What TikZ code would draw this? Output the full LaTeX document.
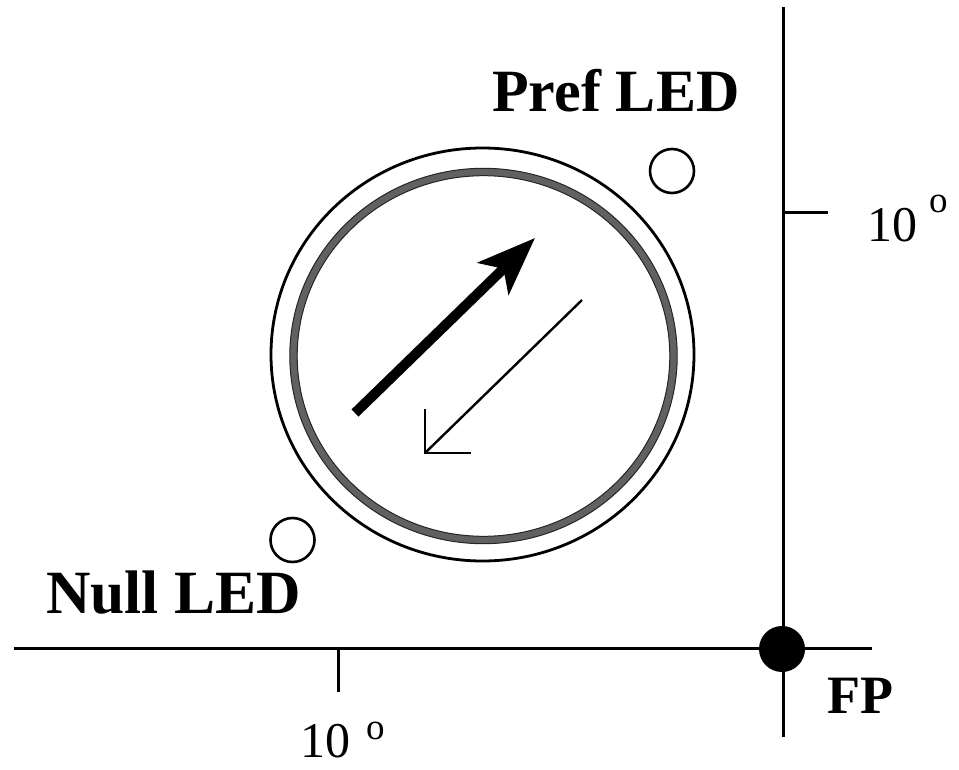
\documentclass[tikz,border=0pt]{standalone}
\usepackage{fontspec}
\setmainfont{Liberation Serif}
\usetikzlibrary{arrows.meta}
\begin{document}
\begin{tikzpicture}[x=1pt,y=-1pt,
  axis/.style={line width=3pt},
  led/.style={circle,draw,line width=2.6pt,minimum size=44pt,inner sep=0pt},
  lbl/.style={anchor=base west,inner sep=0pt,font=\fontsize{60}{61}\selectfont\bfseries},
  num/.style={anchor=base west,inner sep=0pt,text depth=0pt,font=\fontsize{50}{51}\selectfont},
  deg/.style={anchor=base west,inner sep=0pt,text depth=0pt,font=\fontsize{37}{38}\selectfont}]
\useasboundingbox (0,0) rectangle (959,770);
% axes
\coordinate (hx0) at (14,648.5);
\coordinate (hx1) at (872,648.5);
\coordinate (vy0) at (783.5,7);
\coordinate (vy1) at (783.5,737);
\draw[axis] (hx0) -- (hx1);
\draw[axis] (vy0) -- (vy1);
\coordinate (tb0) at (338,648.5);
\coordinate (tb1) at (338,692);
\coordinate (tr0) at (783.5,213);
\coordinate (tr1) at (828,213);
\draw[axis] (tb0) -- (tb1);
\draw[axis] (tr0) -- (tr1);
% fixation point
\node[circle,fill=black,minimum size=46pt,inner sep=0pt] (fp) at (782,649) {};
\node[lbl,font=\fontsize{54}{55}\selectfont\bfseries] (fpl) at (827,713) {FP};
% tick labels
\node[num] (n1) at (300,757) {10};
\node[deg] (d1) at (366,739) {o};
\node[num] (n2) at (867,242) {10};
\node[deg] (d2) at (929,213) {o};
% stimulus aperture
\draw[line width=2.8pt] (482.5,354.5) ellipse [x radius=211.5, y radius=206.5];
\draw[line width=7.5pt,black!62] (483.5,356) ellipse [x radius=190, y radius=184];
\draw[line width=1pt,black!85] (483.5,356) ellipse [x radius=193.7, y radius=187.7];
\draw[line width=1pt,black!85] (483.5,356) ellipse [x radius=186.3, y radius=180.3];
% LEDs
\node[led] (pref) at (672,171) {};
\node[led] (null) at (292.5,540) {};
\node[lbl] (prefl) at (492,112) {Pref LED};
\node[lbl,font=\fontsize{61.5}{62}\selectfont\bfseries] (nulll) at (46,613) {Null LED};
% preferred direction arrow
\coordinate (pa0) at (355,413);
\coordinate (pa1) at (535,238);
\draw[line width=10pt,-{Stealth[length=58pt,width=44pt,inset=14pt]}] (pa0) -- (pa1);
% null direction arrow
\coordinate (na0) at (582,300);
\coordinate (na1) at (425,453);
\coordinate (nh1) at (425,409);
\coordinate (nh2) at (471,453);
\draw[line width=2.4pt] (na0) -- (na1);
\draw[line width=2.4pt] (nh1) -- (na1) -- (nh2);
\end{tikzpicture}
\end{document}
